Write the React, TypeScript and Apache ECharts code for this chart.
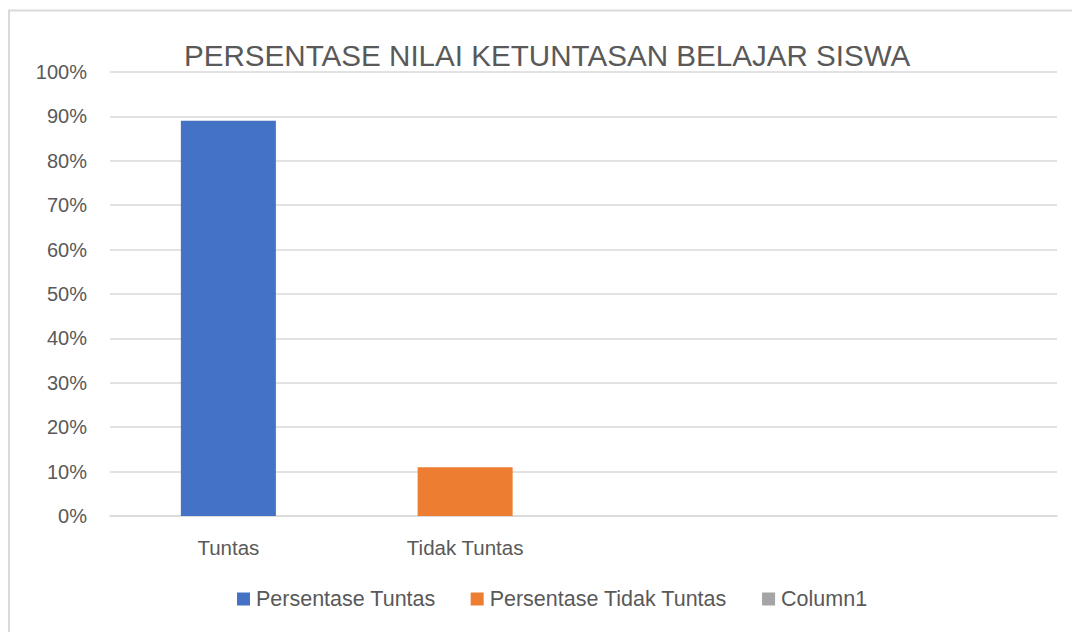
import React, { useEffect, useRef } from "react";
import * as echarts from "echarts";

const categories = ["Tuntas", "Tidak Tuntas", "", ""];
const seriesNames = ["Persentase Tuntas", "Persentase Tidak Tuntas", "Column1"];
const tuntasValues = [89, null, null, null];
const tidakTuntasValues = [null, 11, null, null];
const column1Values = [null, null, null, null];
const colors = ["#4472C4", "#ED7D31", "#A5A5A5"];

const FONT = "'Liberation Sans', 'Open Sans', sans-serif";

export default function App() {
  const ref = useRef<HTMLDivElement>(null);
  useEffect(() => {
    if (!ref.current) return;
    const chart = echarts.init(ref.current, undefined, { renderer: "svg" });
    const values = [tuntasValues, tidakTuntasValues, column1Values];
    chart.setOption({
      animation: false,
      backgroundColor: "#ffffff",
      title: {
        text: "PERSENTASE NILAI KETUNTASAN BELAJAR SISWA",
        left: 179,
        top: 35,
        textStyle: { fontFamily: FONT, fontSize: 29.6, fontWeight: "normal", color: "#595959" },
      },
      graphic: [
        {
          type: "rect",
          silent: true,
          shape: { x: 9, y: 10.5, width: 1200, height: 800 },
          style: { fill: "none", stroke: "#D9D9D9", lineWidth: 2 },
          z: -10,
        },
      ],
      grid: { left: 110, right: 15, top: 72, bottom: 116, containLabel: false },
      legend: {
        bottom: 17,
        left: 232,
        itemWidth: 13,
        itemHeight: 13,
        itemGap: 35,
        icon: "rect",
        textStyle: { fontFamily: FONT, fontSize: 21.5, color: "#595959", padding: [0, 0, 0, 1] },
        data: seriesNames,
      },
      xAxis: {
        type: "category",
        data: categories,
        axisLine: { lineStyle: { color: "#D9D9D9", width: 1.5 } },
        axisTick: { show: false },
        axisLabel: { fontFamily: FONT, fontSize: 20.5, color: "#595959", margin: 21 },
      },
      yAxis: {
        type: "value",
        min: 0,
        max: 100,
        interval: 10,
        axisLine: { show: false },
        axisTick: { show: false },
        splitLine: { lineStyle: { color: "#D9D9D9", width: 1.5 } },
        axisLabel: {
          fontFamily: FONT,
          fontSize: 20,
          color: "#595959",
          margin: 23,
          formatter: (v: number) => `${v}%`,
        },
      },
      series: seriesNames.map((name, i) => ({
        name,
        type: "bar",
        stack: "all",
        barWidth: 95,
        data: values[i],
        itemStyle: { color: colors[i] },
      })),
    });
    return () => chart.dispose();
  }, []);
  return (
    <div
      ref={ref}
      style={{ position: "absolute", left: 0, top: 0, width: 1072, height: 632 }}
    />
  );
}
